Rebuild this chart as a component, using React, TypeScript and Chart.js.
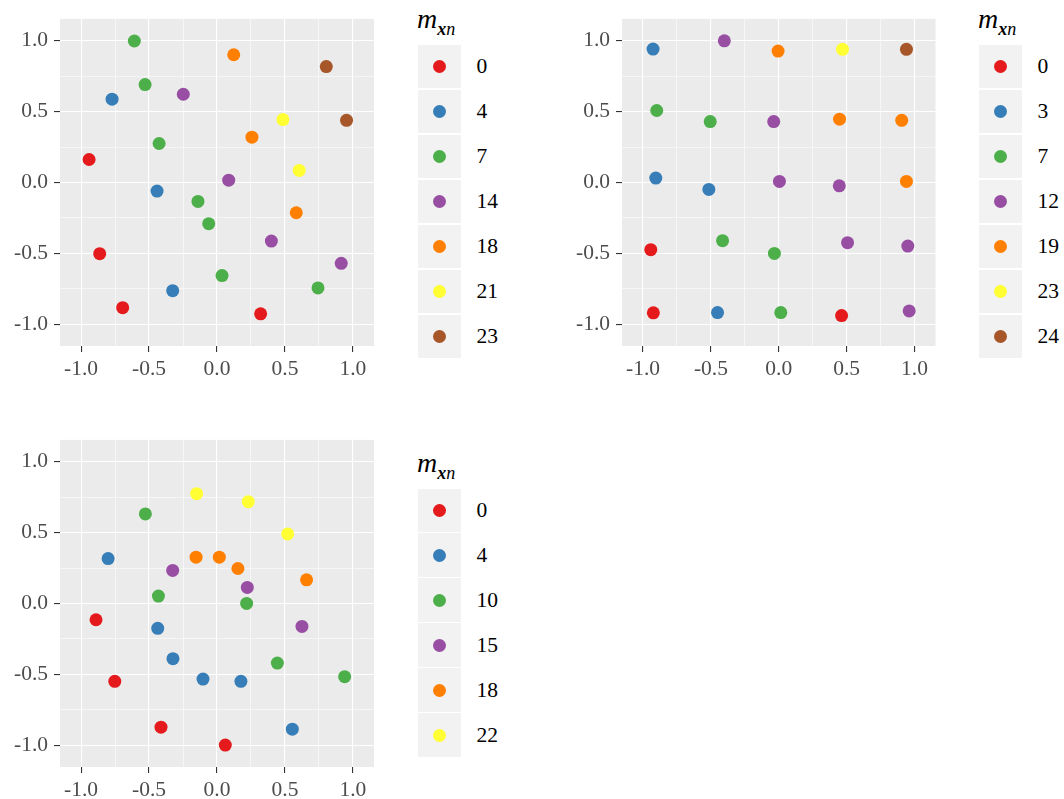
import React, { useEffect, useRef } from "react";
import { Chart, registerables } from "chart.js";

Chart.register(...registerables);

// Brewer "Set1" palette, one colour per group in legend order
const set1 = ["#E41A1C", "#377EB8", "#4DAF4A", "#984EA3", "#FF7F00", "#FFFF33", "#A65628"];

// Shared axis setup for all three panels
const axisMin = -1.155;
const axisMax = 1.155;
const majorTicks = [-1, -0.5, 0, 0.5, 1];
const majorTickLabels = ["-1.0", "-0.5", "0.0", "0.5", "1.0"];
const minorTicks = [-0.75, -0.25, 0.25, 0.75];

// Top-left panel
const panelAKeys = ["0", "4", "7", "14", "18", "21", "23"];
const panelAPoints: [number, number][][] = [
  [[-0.941, 0.162], [-0.863, -0.503], [-0.694, -0.884], [0.321, -0.928]],
  [[-0.772, 0.588], [-0.441, -0.061], [-0.326, -0.764]],
  [[-0.608, 0.999], [-0.529, 0.691], [-0.426, 0.275], [-0.14, -0.134], [-0.061, -0.291], [0.037, -0.658], [0.743, -0.745]],
  [[-0.248, 0.623], [0.086, 0.016], [0.4, -0.414], [0.914, -0.571]],
  [[0.123, 0.902], [0.257, 0.32], [0.583, -0.214]],
  [[0.485, 0.444], [0.605, 0.085]],
  [[0.804, 0.818], [0.953, 0.439]],
];

// Top-right panel
const panelBKeys = ["0", "3", "7", "12", "19", "23", "24"];
const panelBPoints: [number, number][][] = [
  [[-0.943, -0.475], [-0.924, -0.921], [0.463, -0.94]],
  [[-0.926, 0.942], [-0.906, 0.031], [-0.515, -0.049], [-0.451, -0.919]],
  [[-0.899, 0.508], [-0.505, 0.43], [-0.414, -0.411], [-0.032, -0.501], [0.015, -0.919]],
  [[-0.401, 1.0], [-0.037, 0.43], [0.005, 0.007], [0.446, -0.024], [0.507, -0.425], [0.951, -0.449], [0.961, -0.907]],
  [[-0.005, 0.928], [0.448, 0.447], [0.906, 0.439], [0.941, 0.007]],
  [[0.47, 0.94]],
  [[0.941, 0.94]],
];

// Bottom-left panel
const panelCKeys = ["0", "4", "10", "15", "18", "22"];
const panelCPoints: [number, number][][] = [
  [[-0.89, -0.115], [-0.752, -0.55], [-0.412, -0.874], [0.061, -1.0]],
  [[-0.801, 0.317], [-0.436, -0.176], [-0.324, -0.39], [-0.103, -0.534], [0.176, -0.55], [0.554, -0.888]],
  [[-0.527, 0.632], [-0.431, 0.052], [0.218, 0.0], [0.444, -0.421], [0.939, -0.517]],
  [[-0.326, 0.233], [0.223, 0.113], [0.625, -0.162]],
  [[-0.154, 0.327], [0.017, 0.327], [0.154, 0.247], [0.659, 0.167]],
  [[-0.15, 0.775], [0.23, 0.719], [0.52, 0.491]],
];

const serif = '"Liberation Serif", "Times New Roman", serif';

const isMajor = (v: number | undefined) =>
  v !== undefined && majorTicks.some((m) => Math.abs(m - v) < 1e-9);

function axisOptions(kind: "x" | "y", size: number) {
  const all = [...minorTicks, ...majorTicks].sort((a, b) => a - b);
  return {
    type: "linear" as const,
    min: axisMin,
    max: axisMax,
    afterBuildTicks: (s: any) => {
      s.ticks = all.map((v) => ({ value: v }));
    },
    afterFit: (s: any) => {
      if (kind === "x") s.height = size;
      else s.width = size;
    },
    border: { display: false },
    grid: {
      color: "#FFFFFF",
      lineWidth: (c: any) => (isMajor(c.tick?.value) ? 1.1 : 0.55),
      tickColor: (c: any) => (isMajor(c.tick?.value) ? "#333333" : "rgba(0,0,0,0)"),
      tickWidth: 1.1,
      tickLength: 6,
      drawTicks: true,
    },
    ticks: {
      autoSkip: false,
      maxRotation: 0,
      minRotation: 0,
      padding: kind === "x" ? 4 : 6,
      color: "#4D4D4D",
      font: { family: serif, size: 21.5 },
      callback: (v: any) => {
        const i = majorTicks.findIndex((m) => Math.abs(m - Number(v)) < 1e-9);
        return i >= 0 ? majorTickLabels[i] : "";
      },
    },
  };
}

const panelBackground = {
  id: "panelBackground",
  beforeDraw(chart: any) {
    const { ctx, chartArea: a } = chart;
    ctx.save();
    ctx.fillStyle = "#EBEBEB";
    ctx.fillRect(a.left, a.top, a.right - a.left, a.bottom - a.top);
    ctx.restore();
  },
};

type PanelProps = {
  keys: string[];
  points: [number, number][][];
  left: number;
  top: number;
  width: number;
  height: number;
  yAxisWidth: number;
  xAxisHeight: number;
  padTop: number;
  padRight: number;
  legendLeft: number;
  legendTop: number;
};

function ScatterPanel(p: PanelProps) {
  const ref = useRef<HTMLCanvasElement | null>(null);

  useEffect(() => {
    if (!ref.current) return;
    const chart = new Chart(ref.current, {
      type: "scatter",
      data: {
        datasets: p.keys.map((k, i) => ({
          label: k,
          data: p.points[i].map(([x, y]) => ({ x, y })),
          backgroundColor: set1[i],
          borderWidth: 0,
          pointRadius: 6.5,
          pointHoverRadius: 6.5,
        })),
      },
      options: {
        responsive: false,
        animation: false,
        events: [],
        layout: { padding: { top: p.padTop, right: p.padRight, left: 0, bottom: 0 } },
        plugins: { legend: { display: false }, tooltip: { enabled: false } },
        scales: {
          x: axisOptions("x", p.xAxisHeight) as any,
          y: axisOptions("y", p.yAxisWidth) as any,
        },
      },
      plugins: [panelBackground],
    });
    return () => chart.destroy();
  }, []);

  return (
    <>
      <canvas
        ref={ref}
        width={p.width}
        height={p.height}
        style={{ position: "absolute", left: p.left, top: p.top, width: p.width, height: p.height }}
      />
      <div style={{ position: "absolute", left: p.legendLeft, top: p.legendTop, fontFamily: serif }}>
        <div style={{ position: "absolute", left: -1, top: -40, fontSize: 28, lineHeight: "28px", whiteSpace: "nowrap", color: "#000" }}>
          <span style={{ fontStyle: "italic" }}>m</span>
          <span style={{ position: "relative", top: 7, fontSize: 18 }}>
            <span style={{ fontStyle: "italic", fontWeight: "bold" }}>x</span>
            <span style={{ fontStyle: "italic" }}>n</span>
          </span>
        </div>
        {p.keys.map((k, i) => (
          <div key={k} style={{ display: "flex", alignItems: "center", height: 43.3, marginBottom: 1.7 }}>
            <div
              style={{
                width: 43,
                height: 43.3,
                background: "#F2F2F2",
                display: "flex",
                alignItems: "center",
                justifyContent: "center",
              }}
            >
              <div style={{ width: 13, height: 13, borderRadius: "50%", background: set1[i] }} />
            </div>
            <div style={{ marginLeft: 15.5, fontSize: 21.5, color: "#000", whiteSpace: "nowrap" }}>{k}</div>
          </div>
        ))}
      </div>
    </>
  );
}

export default function App() {
  return (
    <div
      style={{
        position: "absolute",
        left: 0,
        top: 0,
        width: 1064,
        height: 799,
        overflow: "hidden",
        background: "#FFFFFF",
      }}
    >
      <ScatterPanel
        keys={panelAKeys}
        points={panelAPoints}
        left={0}
        top={0}
        width={400}
        height={395}
        yAxisWidth={60}
        xAxisHeight={49}
        padTop={18}
        padRight={26}
        legendLeft={418}
        legendTop={45}
      />
      <ScatterPanel
        keys={panelBKeys}
        points={panelBPoints}
        left={560}
        top={0}
        width={400}
        height={395}
        yAxisWidth={62}
        xAxisHeight={49}
        padTop={18}
        padRight={24.5}
        legendLeft={979}
        legendTop={45}
      />
      <ScatterPanel
        keys={panelCKeys}
        points={panelCPoints}
        left={0}
        top={421}
        width={400}
        height={395}
        yAxisWidth={60}
        xAxisHeight={49}
        padTop={18}
        padRight={26}
        legendLeft={418}
        legendTop={488.5}
      />
    </div>
  );
}
